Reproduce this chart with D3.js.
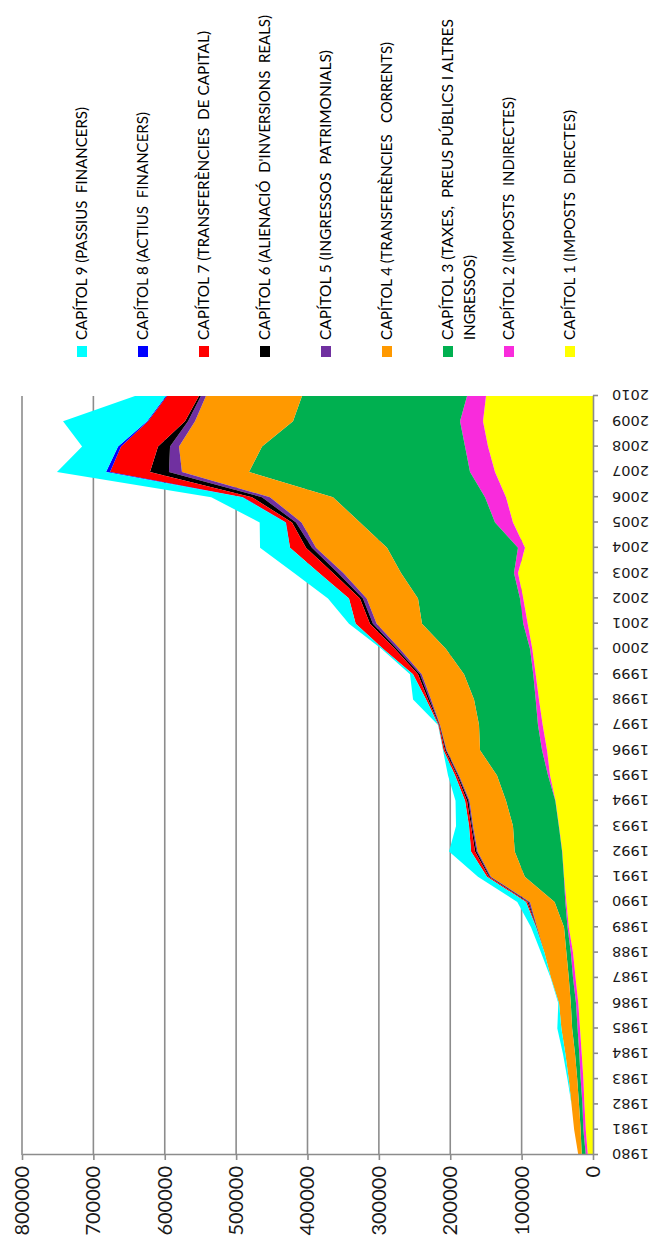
<!DOCTYPE html>
<html><head><meta charset="utf-8">
<script src="https://cdn.jsdelivr.net/npm/d3@7"></script>
<style>body{margin:0;background:#fff;} svg{display:block;}</style>
</head><body>
<svg id="c" width="654" height="1249"></svg>
<script>
// ---------- data ----------
const years = [1980,1981,1982,1983,1984,1985,1986,1987,1988,1989,1990,1991,1992,1993,1994,1995,1996,1997,1998,1999,2000,2001,2002,2003,2004,2005,2006,2007,2008,2009,2010];
// CAPÍTOL 1 (IMPOSTS DIRECTES)
const cap1 = [7300,10100,12000,13500,15800,18200,20600,24400,28000,33900,37300,40500,43000,47600,52500,60200,64400,70500,75700,80300,85000,91500,97700,105100,95300,112100,121900,137300,147100,154100,149900];
// CAPÍTOL 2 (IMPOSTS INDIRECTES)
const cap2 = [2800,3400,2800,3800,3400,3400,3200,3600,3100,1800,1500,300,300,300,300,2800,7000,6600,4600,3400,3200,6200,4600,5600,9800,25200,29400,35000,32200,32200,26600];
// CAPÍTOL 3 (TAXES, PREUS PÚBLICS I ALTRES INGRESSOS)
const cap3 = [5700,3800,4800,4800,6000,7600,7300,5900,6200,4900,15000,54800,66400,64200,69100,71500,86900,82600,86400,97000,117800,141900,142900,158300,183500,189100,213000,309700,284400,234000,231200];
// CAPÍTOL 4 (TRANSFERÈNCIES CORRENTS)
const cap4 = [4800,9100,10500,11900,13500,15100,16500,24900,30800,37800,34500,47400,52000,56000,51100,53200,46700,54600,60200,59300,64400,63500,71900,80800,99500,82000,88300,93900,116300,137300,134600];
// CAPÍTOL 5 (INGRESSOS PATRIMONIALS)
const cap5 = [0,0,0,0,0,0,0,0,0,500,2100,1400,1500,1400,1400,1400,1000,700,2100,2400,4200,5200,5200,7400,5600,7700,11200,18200,12600,9800,7000];
// CAPÍTOL 6 (ALIENACIÓ D'INVERSIONS REALS)
const cap6 = [0,0,0,0,0,0,0,0,0,500,1400,1400,2100,1400,2100,1400,1400,700,2100,2800,2800,4200,4200,7000,8400,5600,14000,26600,16800,4200,2800];
// CAPÍTOL 7 (TRANSFERÈNCIES DE CAPITAL)
const cap7 = [0,0,0,0,0,0,0,0,0,400,2100,2800,5600,2800,2800,2800,2100,1000,2800,7000,16400,20000,15400,19600,22400,8400,12600,56000,51800,51800,44800];
// CAPÍTOL 8 (ACTIUS FINANCERS)
const cap8 = [0,0,0,0,0,0,0,0,0,0,0,0,0,0,0,0,0,0,0,0,0,0,0,0,0,500,1000,5600,4200,1400,1400];
// CAPÍTOL 9 (PASSIUS FINANCERS)
const cap9 = [0,0,0,1800,3400,5700,1000,500,4800,7000,12200,12600,30800,18200,13300,9800,700,400,18200,4200,2200,9400,29400,35000,42000,36400,43400,68700,50400,117700,43400];

const seriesKeys = ["cap1","cap2","cap3","cap4","cap5","cap6","cap7","cap8","cap9"];
const seriesColors = ["#FFFF00","#F92BDC","#00B050","#FF9900","#7030A0","#000000","#FF0000","#0000FF","#00FFFF"];
const legendLabels = [
  ["CAPÍTOL 1 (IMPOSTS  DIRECTES)"],
  ["CAPÍTOL 2 (IMPOSTS  INDIRECTES)"],
  ["CAPÍTOL 3 (TAXES,  PREUS PÚBLICS I ALTRES","INGRESSOS)"],
  ["CAPÍTOL 4 (TRANSFERÈNCIES   CORRENTS)"],
  ["CAPÍTOL 5 (INGRESSOS  PATRIMONIALS)"],
  ["CAPÍTOL 6 (ALIENACIÓ  D'INVERSIONS  REALS)"],
  ["CAPÍTOL 7 (TRANSFERÈNCIES  DE CAPITAL)"],
  ["CAPÍTOL 8 (ACTIUS  FINANCERS)"],
  ["CAPÍTOL 9 (PASSIUS  FINANCERS)"]
];
const legendTextLen = [[230],[243],[321,85],[298],[290],[325],[309],[228],[233]];
const valueTicks = [0,100000,200000,300000,400000,500000,600000,700000,800000];

// ---------- drawing (chart built unrotated, then turned 90° counter-clockwise) ----------
const W = 1249, H = 654;
const svg = d3.select("#c");
const g = svg.append("g").attr("transform", `translate(0,${W}) rotate(-90)`);

const x = d3.scaleLinear().domain([1980, 2010]).range([94, 853]);
const y = d3.scaleLinear().domain([0, 800000]).range([593, 22]);

// gridlines
g.append("g").selectAll("line").data(valueTicks.slice(1)).join("line")
  .attr("x1", x(1980)).attr("x2", x(2010))
  .attr("y1", d => y(d)).attr("y2", d => y(d))
  .attr("stroke", "#8c8c8c").attr("stroke-width", 1.6);

// stacked areas
const table = years.map((yr, i) => ({year: yr, cap1: cap1[i], cap2: cap2[i], cap3: cap3[i], cap4: cap4[i], cap5: cap5[i], cap6: cap6[i], cap7: cap7[i], cap8: cap8[i], cap9: cap9[i]}));
const stacked = d3.stack().keys(seriesKeys)(table);
const area = d3.area().x(d => x(d.data.year)).y0(d => y(d[0])).y1(d => y(d[1]));
g.append("g").selectAll("path").data(stacked).join("path")
  .attr("d", area).attr("fill", (d, i) => seriesColors[i]);

// value axis
const yAxis = d3.axisLeft(y).tickValues(valueTicks).tickSize(5).tickSizeOuter(0).tickPadding(6).tickFormat(d3.format("d"));
const ya = g.append("g").attr("transform", `translate(${x(1980)},0)`).call(yAxis);
ya.select(".domain").attr("stroke", "#8c8c8c").attr("stroke-width", 1.6);
ya.selectAll(".tick line").attr("stroke", "#8c8c8c").attr("stroke-width", 1.6);
ya.selectAll(".tick text").attr("font-family", "Lato, 'Open Sans', sans-serif").attr("font-size", 20).attr("fill", "#1a1a1a");

// category axis
const xAxis = d3.axisBottom(x).tickValues(years).tickSize(5).tickSizeOuter(0).tickFormat(d3.format("d"));
const xa = g.append("g").attr("transform", `translate(0,${y(0)})`).call(xAxis);
xa.select(".domain").attr("stroke", "#8c8c8c").attr("stroke-width", 1.6);
xa.selectAll(".tick line").attr("stroke", "#8c8c8c").attr("stroke-width", 1.6);
xa.selectAll(".tick text")
  .attr("transform", "rotate(-90)").attr("x", -19).attr("y", 0).attr("dy", "0.35em")
  .attr("text-anchor", "end")
  .attr("font-family", "'DejaVu Sans', Verdana, sans-serif").attr("font-size", 14.5).attr("fill", "#1a1a1a");

// legend (top to bottom: cap9 ... cap1)
const legendOrder = [8,7,6,5,4,3,2,1,0];
const lg = g.append("g");
legendOrder.forEach((si, k) => {
  const cy = 82 + k * 61;
  lg.append("rect").attr("x", 892).attr("y", cy - 5).attr("width", 11).attr("height", 10).attr("fill", seriesColors[si]);
  legendLabels[si].forEach((line, li) => {
    lg.append("text").attr("x", 909).attr("y", cy + li * 22).attr("dy", "0.36em")
      .attr("font-family", "Lato, 'Open Sans', sans-serif").attr("font-size", 15).attr("fill", "#000")
      .style("white-space", "pre")
      .attr("textLength", legendTextLen[si][li]).attr("lengthAdjust", "spacingAndGlyphs")
      .text(line);
  });
});
</script>
</body></html>
